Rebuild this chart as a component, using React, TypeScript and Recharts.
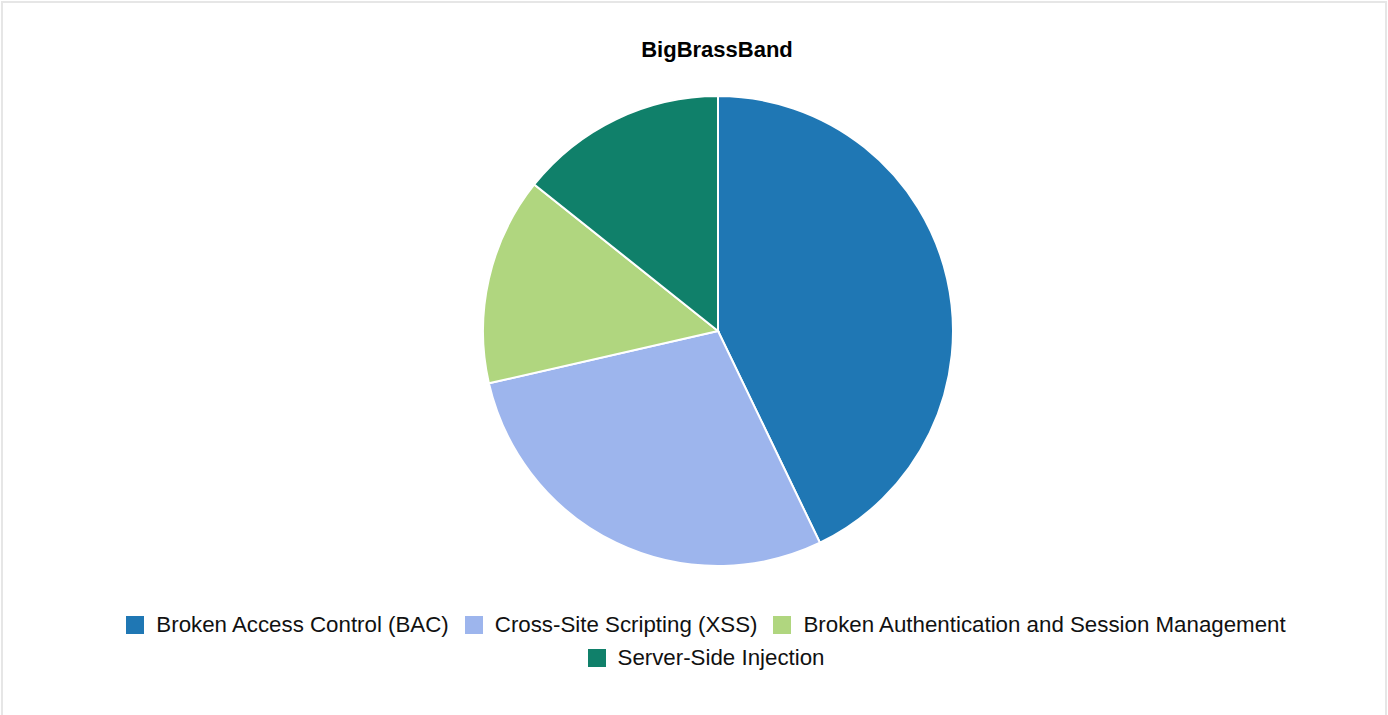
import React from 'react';
import { PieChart, Pie, Cell, Legend } from 'recharts';

const categories = [
  'Broken Access Control (BAC)',
  'Cross-Site Scripting (XSS)',
  'Broken Authentication and Session Management',
  'Server-Side Injection',
];
const counts = [3, 2, 1, 1];
const colors = ['#1f77b4', '#9db5ed', '#b0d67f', '#10806a'];

const data = categories.map((name, i) => ({ name, value: counts[i] }));

const FONT = 'Arial, "Liberation Sans", Helvetica, sans-serif';

const renderLegend = () => (
  <div
    style={{
      display: 'flex',
      flexWrap: 'wrap',
      justifyContent: 'center',
      width: 1200,
      margin: '0 auto',
      rowGap: 11,
      fontFamily: FONT,
      fontSize: 22.3,
      color: '#111',
      lineHeight: '22px',
    }}
  >
    {categories.map((c, i) => (
      <div key={c} style={{ display: 'flex', alignItems: 'center', marginLeft: 8, marginRight: 8 }}>
        <span style={{ width: 18, height: 18, background: colors[i], display: 'inline-block', marginRight: 12 }} />
        <span>{c}</span>
      </div>
    ))}
  </div>
);

export default function App() {
  return (
    <div
      style={{
        position: 'absolute',
        left: 1,
        top: 1,
        width: 1386,
        height: 730,
        border: '2px solid #e6e6e6',
        boxSizing: 'border-box',
        background: '#fff',
      }}
    >
      <div
        style={{
          position: 'absolute',
          top: 34,
          left: 23,
          width: 1382,
          textAlign: 'center',
          fontFamily: FONT,
          fontWeight: 'bold',
          fontSize: 22,
          color: '#000',
          lineHeight: '26px',
        }}
      >
        BigBrassBand
      </div>
      <PieChart width={1382} height={720} margin={{ top: 0, right: 0, bottom: 0, left: 0 }}>
        <Pie
          data={data}
          dataKey="value"
          nameKey="name"
          cx={715}
          cy={328}
          outerRadius={235}
          startAngle={90}
          endAngle={-270}
          stroke="#fff"
          strokeWidth={2}
          isAnimationActive={false}
        >
          {data.map((d, i) => (
            <Cell key={d.name} fill={colors[i]} />
          ))}
        </Pie>
        <Legend
          content={renderLegend}
          wrapperStyle={{ position: 'absolute', top: 611, left: 12, width: 1382 }}
        />
      </PieChart>
    </div>
  );
}
